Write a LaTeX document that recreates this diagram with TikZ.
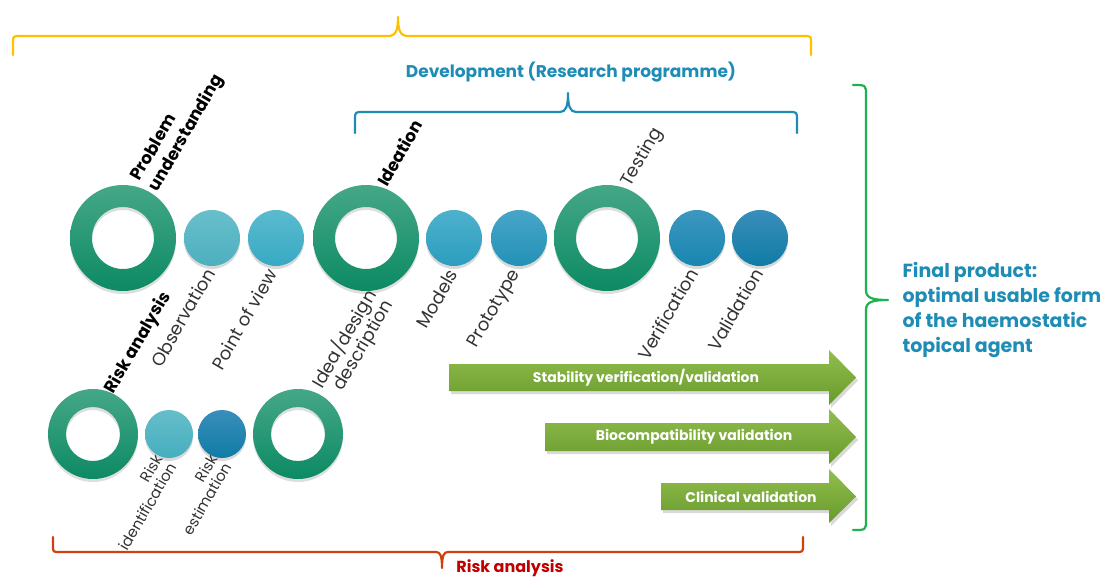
\documentclass[tikz,border=0pt]{standalone}
\usepackage{fontspec}
\setmainfont{Poppins}
\usetikzlibrary{positioning}

\definecolor{ringtop}{HTML}{45A788}
\definecolor{ringbot}{HTML}{0C8A63}
\definecolor{arrtop}{HTML}{92BE4E}
\definecolor{arrbot}{HTML}{679A2C}
\definecolor{devblue}{HTML}{1E8DB5}
\definecolor{goldbrace}{HTML}{FFC000}
\definecolor{greenbrace}{HTML}{1FB04F}
\definecolor{redbrace}{HTML}{D0400E}
\definecolor{redtext}{HTML}{C00000}
\definecolor{labelgray}{HTML}{333333}

\begin{document}
\begin{tikzpicture}[x=1pt,y=-1pt,
  lbl/.style={rotate=60, inner sep=0pt, text=labelgray,
    font=\fontsize{18}{19}\selectfont},
  blbl/.style={lbl, text=black, font=\fontsize{17}{21}\selectfont\bfseries},
  brace/.style={line width=2.2pt, line cap=round, line join=round},
  arrtext/.style={text=white, font=\fontsize{14}{15}\selectfont\bfseries},
  ringshadow/.style={fill=black, opacity=.13, even odd rule}]
\useasboundingbox (0,0) rectangle (1102,578);

% brace over everything
\draw[brace, goldbrace] (13,55) -- (13,43) .. controls (13,36) .. (21,36) -- (388,36)
  .. controls (396,36) and (398,30) .. (398,17) .. controls (398,30) and (400,36) .. (408,36)
  -- (803,36) .. controls (811,36) .. (811,43) -- (811,55);

% development brace
\node[text=devblue, font=\fontsize{17}{18}\selectfont\bfseries] (dev) at (571,72) {Development (Research programme)};
\draw[brace, devblue] (355,133) -- (355,120) .. controls (355,112) .. (363,112) -- (560,112)
  .. controls (566,112) and (568,106) .. (568,93) .. controls (568,106) and (570,112) .. (576,112)
  -- (789,112) .. controls (797,112) .. (797,120) -- (797,133);

% big rings
\coordinate (prob) at (123,238);
\coordinate (idea) at (366,238);
\coordinate (test) at (607,238);
\foreach \c in {prob,idea,test}{
  \fill[ringshadow] ([yshift=-3pt]\c) circle (53) ([yshift=-3pt]\c) circle (31);
  \shade[top color=ringtop, bottom color=ringbot, even odd rule] (\c) circle (53) (\c) circle (31);
}
\coordinate (riskA) at (93,434);
\coordinate (riskB) at (298,434);
\foreach \c in {riskA,riskB}{
  \fill[ringshadow] ([yshift=-3pt]\c) circle (45) ([yshift=-3pt]\c) circle (27);
  \shade[top color=ringtop, bottom color=ringbot, even odd rule] (\c) circle (45) (\c) circle (27);
}

% small circles
\foreach \c/\x/\y/\r/\ct/\cb in {obs/212/238/28/68BFCB/4DAFBF, pov/276/238/28/5ABBCF/38A9C3,
    mod/454/238/28/4DB1CD/2C9DBE, pro/519/238/28/47A6C8/2391B7,
    ver/697/238/28/3C97C0/1886B0, val/760/238/28/3A8EBA/0F7CA6,
    rid/169/434/24/66BECA/45AEBE, rest/222/434/24/3A8EBA/0F7CA6}{
  \coordinate (\c) at (\x,\y);
  \fill[black, opacity=.15] ([yshift=-3pt]\c) circle (\r);
  \definecolor{ctop}{HTML}{\ct}\definecolor{cbot}{HTML}{\cb}
  \shade[top color=ctop, bottom color=cbot] (\c) circle (\r);
}

% labels above
\node[blbl, anchor=south west, align=left] (problbl) at (162,195) {Problem\\understanding};
\node[blbl, anchor=base west] (idealbl) at (387,188) {Ideation};
\node[lbl, anchor=base west] (testlbl) at (630,188) {Testing};

% labels below
\node[blbl, anchor=north east] (risklbl) at (159,289) {Risk analysis};
\node[lbl, anchor=north east] (obslbl) at (204,266) {Observation};
\node[lbl, anchor=north east] (povlbl) at (266,267) {Point of view};
\node[lbl, anchor=north east, align=right] (idealbl2) at (362,286) {Idea/design\\description};
\node[lbl, anchor=north east] (modlbl) at (447,267) {Models};
\node[lbl, anchor=north east] (prolbl) at (509,267) {Prototype};
\node[lbl, anchor=north east] (verlbl) at (687,266) {Verification};
\node[lbl, anchor=north east] (vallbl) at (752,266) {Validation};
\node[lbl, anchor=north east, align=right, font=\fontsize{15}{16}\selectfont] (ridlbl) at (153,453) {Risk\\identification};
\node[lbl, anchor=north east, align=right, font=\fontsize{15}{16}\selectfont] (restlbl) at (208,453) {Risk\\estimation};

% green arrows
\fill[black, opacity=.15] (451,367) -- (831,367) -- (831,353) -- (858,380.5) -- (831,408) -- (831,394) -- (451,394) -- cycle;
\shade[top color=arrtop, bottom color=arrbot] (449,364) -- (829,364) -- (829,350) -- (856,377.5) -- (829,405) -- (829,391) -- (449,391) -- cycle;
\node[arrtext] (stab) at (646,378) {Stability verification/validation};

\fill[black, opacity=.15] (547,426) -- (831,426) -- (831,412) -- (858,440) -- (831,467) -- (831,454) -- (547,454) -- cycle;
\shade[top color=arrtop, bottom color=arrbot] (545,423) -- (829,423) -- (829,409) -- (856,437) -- (829,464) -- (829,451) -- (545,451) -- cycle;
\node[arrtext] (bio) at (694,437) {Biocompatibility validation};

\fill[black, opacity=.15] (663,486) -- (831,486) -- (831,472) -- (858,499.5) -- (831,526) -- (831,513) -- (663,513) -- cycle;
\shade[top color=arrtop, bottom color=arrbot] (661,483) -- (829,483) -- (829,469) -- (856,496.5) -- (829,523) -- (829,510) -- (661,510) -- cycle;
\node[arrtext] (clin) at (751,497) {Clinical validation};

% final product brace
\draw[brace, greenbrace] (853,85) .. controls (866,85) .. (866,95) -- (866,290)
  .. controls (866,298) and (872,300) .. (888,300) .. controls (872,300) and (866,302) .. (866,310)
  -- (866,520) .. controls (866,530) .. (853,530);
\node[anchor=west, align=left, text=devblue, font=\fontsize{19}{24.7}\selectfont\bfseries] (final) at (899,310)
  {Final product:\\optimal usable form\\of the haemostatic\\topical agent};

% risk analysis brace
\draw[brace, redbrace] (53,537) -- (53,546) .. controls (53,552) .. (60,552) -- (436,552)
  .. controls (440,552) and (442,555) .. (442,568) .. controls (442,555) and (444,552) .. (448,552)
  -- (796,552) .. controls (803,552) .. (803,545) -- (803,537);
\node[text=redtext, font=\fontsize{16}{17}\selectfont\bfseries] (risk) at (510,568) {Risk analysis};
\end{tikzpicture}
\end{document}
